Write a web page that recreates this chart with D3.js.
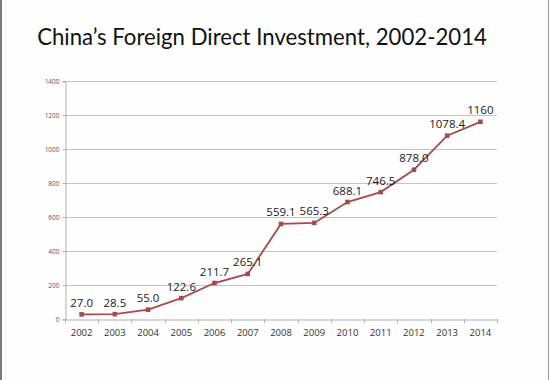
<!DOCTYPE html>
<html><head><meta charset="utf-8">
<script src="https://cdn.jsdelivr.net/npm/d3@7"></script>
<style>body{margin:0;background:#fff}svg{display:block}</style>
</head><body>
<script>
const years = ["2002","2003","2004","2005","2006","2007","2008","2009","2010","2011","2012","2013","2014"];
const fdi = [27.0, 28.5, 55.0, 122.6, 211.7, 265.1, 559.1, 565.3, 688.1, 746.5, 878.0, 1078.4, 1160];
const fdiLabels = ["27.0","28.5","55.0","122.6","211.7","265.1","559.1","565.3","688.1","746.5","878.0","1078.4","1160"];
const yTicks = [0,200,400,600,800,1000,1200,1400];
const title = "China\u2019s Foreign Direct Investment, 2002-2014";

const W = 550, H = 380;
const svg = d3.select("body").append("svg").attr("width", W).attr("height", H);
svg.append("rect").attr("width", W).attr("height", H).attr("fill", "#fefefe");
// slide frame
svg.append("rect").attr("x",0).attr("y",0).attr("width",2).attr("height",H).attr("fill","#7a7a7a");
svg.append("line").attr("x1",5.5).attr("x2",5.5).attr("y1",0).attr("y2",H).attr("stroke","#ececec");
svg.append("line").attr("x1",548.5).attr("x2",548.5).attr("y1",0).attr("y2",H).attr("stroke","#9a9a9a");

const x = d3.scaleBand().domain(years).range([65, 497]);
const y = d3.scaleLinear().domain([0, 1400]).range([319, 81]);

// title
const t = svg.append("text").attr("x", 262).attr("y", 45).attr("text-anchor","middle")
  .attr("font-family","Lato, 'Open Sans', sans-serif").attr("font-size", 24).attr("fill","#111").text(title);
const tw = t.node().getComputedTextLength();
t.attr("font-size", 24 * 450 / tw);

// gridlines
svg.append("g").selectAll("line").data(yTicks.filter(d => d > 0)).join("line")
  .attr("x1", 65).attr("x2", 497).attr("y1", d => Math.round(y(d)) + 0.5).attr("y2", d => Math.round(y(d)) + 0.5)
  .attr("stroke", "#c4c4c4").attr("stroke-width", 1);

// y axis
const yAxis = svg.append("g").attr("transform","translate(65.5,0.5)")
  .call(d3.axisLeft(y).tickValues(yTicks).tickFormat(d3.format("d")).tickSize(3).tickPadding(3));
yAxis.select(".domain").attr("stroke","#b0b0b0");
yAxis.selectAll(".tick line").attr("stroke","#b0b0b0");
yAxis.selectAll("text").attr("font-family","'Open Sans', sans-serif").attr("font-size",6.5).attr("fill","#555");
yAxis.selectAll(".tick").attr("transform", d => `translate(0,${Math.round(y(d))})`);

// x axis
const xAxis = svg.append("g").attr("transform","translate(0,319.5)")
  .call(d3.axisBottom(x).tickSize(0).tickPadding(10));
xAxis.select(".domain").attr("stroke","#b0b0b0");
xAxis.selectAll("text").attr("font-family","'Open Sans', sans-serif").attr("font-size",9.5).attr("fill","#333");
svg.append("g").selectAll("line").data(years.concat(["end"])).join("line")
  .attr("x1", (d,i) => Math.round(65 + i * x.step()) + 0.5).attr("x2", (d,i) => Math.round(65 + i * x.step()) + 0.5)
  .attr("y1", 319).attr("y2", 323).attr("stroke","#b0b0b0");

const cx = d => x(d) + x.bandwidth() / 2;
const pts = years.map((yr, i) => [cx(yr), y(fdi[i])]);

svg.append("path").attr("d", d3.line()(pts)).attr("fill","none").attr("stroke","#a9494b").attr("stroke-width",1.8);
svg.append("g").selectAll("rect").data(pts).join("rect")
  .attr("x", d => d[0]-2.3).attr("y", d => d[1]-2.3).attr("width",4.6).attr("height",4.6).attr("fill","#a24a55");

svg.append("g").selectAll("text").data(years).join("text")
  .attr("x", d => cx(d)).attr("y", (d,i) => y(fdi[i]) - 7.5).attr("text-anchor","middle")
  .attr("font-family","'Open Sans', sans-serif").attr("font-size",11.5).attr("fill","#1a1a1a")
  .text((d,i) => fdiLabels[i]);
</script>
</body></html>
